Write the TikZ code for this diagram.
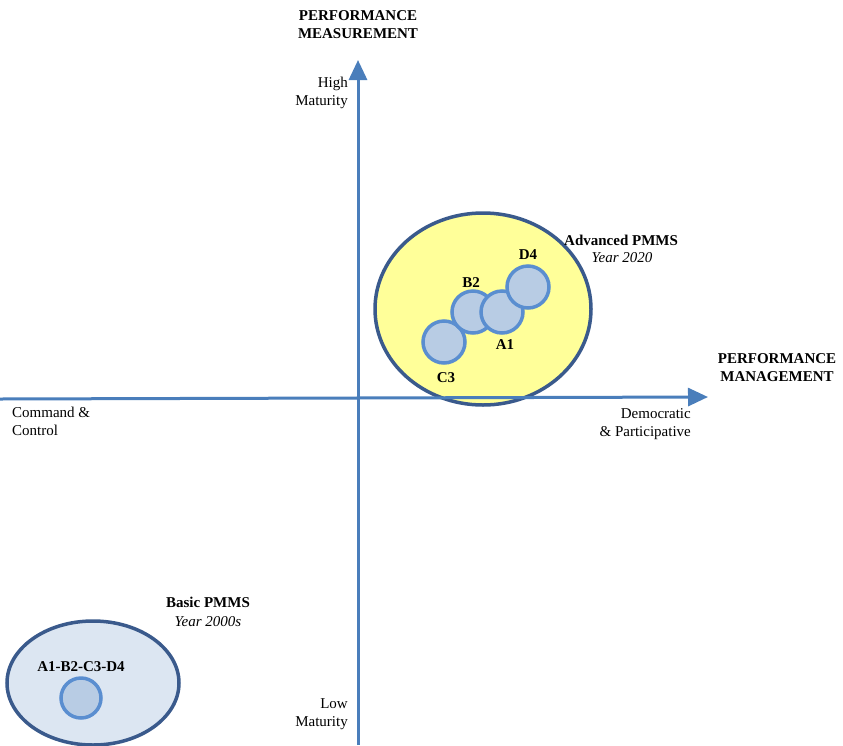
\documentclass[tikz,border=0pt]{standalone}
\usepackage{fontspec}
\setmainfont{Liberation Serif}
\usetikzlibrary{arrows.meta}
\definecolor{axisblue}{HTML}{4A7EBB}
\definecolor{darkring}{HTML}{3A5A8C}
\definecolor{ringblue}{HTML}{5A8ED0}
\definecolor{dotfill}{HTML}{B8CCE4}
\definecolor{bigyellow}{HTML}{FFFF99}
\definecolor{palefill}{HTML}{DCE6F2}
\tikzset{
  axis/.style={draw=axisblue, line width=3pt, -{Triangle[length=20pt,width=18pt]}},
  lbl/.style={font=\fontsize{15}{18}\selectfont, inner sep=0pt},
  boldlbl/.style={lbl, font=\fontsize{15}{18}\selectfont\bfseries},
  itlbl/.style={lbl, font=\fontsize{15}{18}\selectfont\itshape},
  dot/.style={draw=ringblue, fill=dotfill, line width=3.5pt},
  zone/.style={draw=darkring, line width=3.5pt},
}
\begin{document}
\begin{tikzpicture}[x=1pt,y=-1pt]
\useasboundingbox (0,0) rectangle (843,745);
% zones
\path[zone, fill=bigyellow] (483,309) ellipse [x radius=108, y radius=96];
\path[zone, fill=palefill] (93,683) ellipse [x radius=86, y radius=62];
% axes
\coordinate (hstart) at (0,399);
\coordinate (hend) at (708,397);
\coordinate (vstart) at (358,745);
\coordinate (vend) at (358,60);
\draw[axis] (hstart) -- (hend);
\draw[axis] (vstart) -- (vend);
% dots
\path[dot] (444,342) circle [radius=21];
\path[dot] (473,312) circle [radius=21];
\path[dot] (502,312) circle [radius=21];
\path[dot] (528,287) circle [radius=21];
\path[dot] (81,698) circle [radius=20];
% labels
\node[boldlbl, align=center] (pm) at (358,25) {PERFORMANCE\\MEASUREMENT};
\node[boldlbl, align=center] (pmg) at (777,368) {PERFORMANCE\\MANAGEMENT};
\node[lbl, align=right, anchor=east] (hi) at (348,93) {High\\Maturity};
\node[lbl, align=right, anchor=east] (lo) at (348,714) {Low\\Maturity};
\node[lbl, align=left, anchor=west] (cc) at (12,421) {Command \&\\Control};
\node[lbl, align=right, anchor=east] (dp) at (691,424) {Democratic\\\& Participative};
\node[boldlbl, anchor=west] (adv) at (564,240) {Advanced PMMS};
\node[itlbl] (y20) at (622,258) {Year 2020};
\node[boldlbl] (bas) at (208,602) {Basic PMMS};
\node[itlbl] (y00) at (208,622) {Year 2000s};
\node[boldlbl] (d4) at (528,255) {D4};
\node[boldlbl] (b2) at (471,283) {B2};
\node[boldlbl] (a1) at (505,345) {A1};
\node[boldlbl] (c3) at (446,378) {C3};
\node[boldlbl] (all) at (81,667) {A1-B2-C3-D4};
\end{tikzpicture}
\end{document}
